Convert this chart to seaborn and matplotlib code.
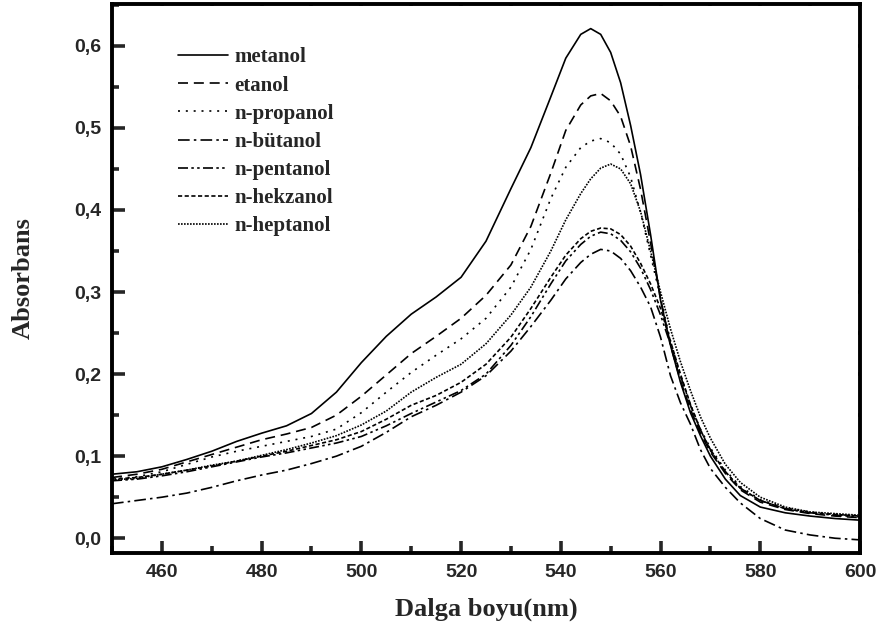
import numpy as np
import pandas as pd
import matplotlib
matplotlib.use("Agg")
import matplotlib.pyplot as plt
import seaborn as sns
from matplotlib.ticker import MultipleLocator, FuncFormatter

# ---------------- data ----------------
wavelength = [450, 455, 460, 465, 470, 475, 480, 485, 490, 495, 500, 505, 510, 515, 520,
              525, 530, 534, 538, 541, 544, 546, 548, 550, 552, 554, 556, 558, 560,
              562, 564, 566, 568, 570, 573, 576, 580, 585, 590, 595, 600]

metanol = [0.078, 0.081, 0.087, 0.096, 0.106, 0.118, 0.128, 0.137, 0.152, 0.178, 0.214,
           0.246, 0.273, 0.294, 0.318, 0.362, 0.426, 0.476, 0.538, 0.585, 0.614, 0.621,
           0.614, 0.592, 0.555, 0.503, 0.443, 0.370, 0.290, 0.235, 0.190, 0.153, 0.125,
           0.100, 0.072, 0.052, 0.038, 0.031, 0.027, 0.024, 0.022]

etanol = [0.074, 0.078, 0.084, 0.093, 0.102, 0.111, 0.120, 0.127, 0.135, 0.150, 0.173,
          0.199, 0.225, 0.246, 0.268, 0.296, 0.333, 0.380, 0.445, 0.497, 0.528, 0.539,
          0.542, 0.533, 0.514, 0.478, 0.425, 0.360, 0.292, 0.235, 0.192, 0.157, 0.128,
          0.105, 0.079, 0.059, 0.044, 0.035, 0.030, 0.027, 0.025]

n_propanol = [0.072, 0.075, 0.081, 0.090, 0.099, 0.106, 0.112, 0.118, 0.124, 0.133, 0.153,
              0.178, 0.202, 0.223, 0.243, 0.268, 0.306, 0.352, 0.414, 0.452, 0.476, 0.484,
              0.487, 0.482, 0.468, 0.440, 0.397, 0.345, 0.293, 0.240, 0.198, 0.162, 0.133,
              0.110, 0.083, 0.063, 0.047, 0.037, 0.032, 0.029, 0.027]

n_butanol = [0.042, 0.046, 0.050, 0.055, 0.062, 0.070, 0.077, 0.083, 0.091, 0.100, 0.112,
             0.129, 0.148, 0.162, 0.178, 0.198, 0.228, 0.258, 0.290, 0.316, 0.336, 0.346,
             0.352, 0.350, 0.341, 0.326, 0.306, 0.282, 0.245, 0.198, 0.165, 0.139, 0.108,
             0.085, 0.062, 0.043, 0.024, 0.010, 0.004, 0.000, -0.002]

n_pentanol = [0.070, 0.072, 0.076, 0.081, 0.087, 0.093, 0.099, 0.104, 0.110, 0.116, 0.124,
              0.137, 0.152, 0.166, 0.180, 0.200, 0.235, 0.270, 0.310, 0.338, 0.358, 0.368,
              0.373, 0.371, 0.363, 0.349, 0.329, 0.303, 0.272, 0.236, 0.198, 0.162, 0.132,
              0.108, 0.081, 0.061, 0.046, 0.036, 0.031, 0.028, 0.026]

n_hekzanol = [0.072, 0.074, 0.078, 0.083, 0.088, 0.094, 0.100, 0.106, 0.113, 0.120, 0.130,
              0.145, 0.162, 0.174, 0.190, 0.212, 0.245, 0.280, 0.318, 0.345, 0.365, 0.374,
              0.378, 0.377, 0.370, 0.356, 0.335, 0.310, 0.280, 0.240, 0.200, 0.163, 0.132,
              0.107, 0.081, 0.061, 0.046, 0.036, 0.031, 0.029, 0.027]

n_heptanol = [0.071, 0.073, 0.078, 0.083, 0.089, 0.094, 0.101, 0.108, 0.116, 0.125, 0.138,
              0.155, 0.178, 0.196, 0.212, 0.237, 0.272, 0.306, 0.350, 0.388, 0.420, 0.438,
              0.451, 0.456, 0.450, 0.432, 0.398, 0.350, 0.300, 0.255, 0.215, 0.180, 0.148,
              0.122, 0.090, 0.068, 0.050, 0.038, 0.032, 0.030, 0.028]

labels = ["metanol", "etanol", "n-propanol", "n-bütanol", "n-pentanol", "n-hekzanol", "n-heptanol"]
x_ticks = [460, 480, 500, 520, 540, 560, 580, 600]
y_ticks = [0.0, 0.1, 0.2, 0.3, 0.4, 0.5, 0.6]

series = [metanol, etanol, n_propanol, n_butanol, n_pentanol, n_hekzanol, n_heptanol]
styles = ["-", (0, (6, 3.5)), (0, (1.2, 3.5)), (0, (7, 2.5, 1.5, 2.5)),
          (0, (6, 2, 1.5, 2, 1.5, 2)), (0, (2.5, 1.5)), (0, (1, 0.8))]

df = pd.DataFrame({"wl": np.tile(wavelength, len(series)),
                   "abs": np.concatenate(series),
                   "solvent": np.repeat(labels, len(wavelength))})

# ---------------- figure ----------------
sns.set_style("ticks")
plt.rcParams["font.family"] = ["Liberation Sans", "DejaVu Sans"]

fig = plt.figure(figsize=(8.85, 6.42), dpi=100)
ax = fig.add_axes([112 / 885, 1 - 553 / 642, 748 / 885, 549 / 642])

for lab, ls in zip(labels, styles):
    sub = df[df["solvent"] == lab]
    sns.lineplot(data=sub, x="wl", y="abs", ax=ax, color="black", linewidth=1.2,
                 linestyle=ls, estimator=None, sort=False, label=lab)

ax.set_xlim(450, 600)
ax.set_ylim(-0.018, 0.651)
ax.set_xticks(x_ticks)
ax.set_yticks(y_ticks)
ax.xaxis.set_minor_locator(MultipleLocator(10))
ax.yaxis.set_minor_locator(MultipleLocator(0.05))
ax.yaxis.set_major_formatter(FuncFormatter(lambda v, p: f"{v:.1f}".replace(".", ",")))

for s in ax.spines.values():
    s.set_linewidth(2.8)
    s.set_color("black")

ax.tick_params(axis="both", which="major", direction="in", length=9, width=2.6,
               labelsize=14, pad=8, top=True, right=True)
ax.tick_params(axis="both", which="minor", direction="in", length=5, width=2.6,
               top=True, right=True)
for t in ax.get_xticklabels() + ax.get_yticklabels():
    t.set_fontweight("bold")
    t.set_fontfamily("Liberation Sans")

# top/right ticks are barely visible in the reference
for tk in ax.xaxis.get_major_ticks() + ax.xaxis.get_minor_ticks():
    tk.tick2line.set_markersize(1.5)
for tk in ax.yaxis.get_major_ticks() + ax.yaxis.get_minor_ticks():
    tk.tick2line.set_markersize(1.5)

ax.set_xlabel("Dalga boyu(nm)", fontsize=19, fontweight="bold",
              fontfamily="Liberation Serif", labelpad=12)
ax.set_ylabel("Absorbans", fontsize=19, fontweight="bold",
              fontfamily="Liberation Serif", labelpad=28)

leg = ax.legend(loc="upper left", bbox_to_anchor=(0.063, 0.955), frameon=False,
                handlelength=2.4, handletextpad=0.3, labelspacing=0.39,
                prop={"family": "Liberation Serif", "weight": "bold", "size": 15})
for h in leg.get_lines():
    h.set_linewidth(1.2)

fig.savefig("out.png", dpi=100)
